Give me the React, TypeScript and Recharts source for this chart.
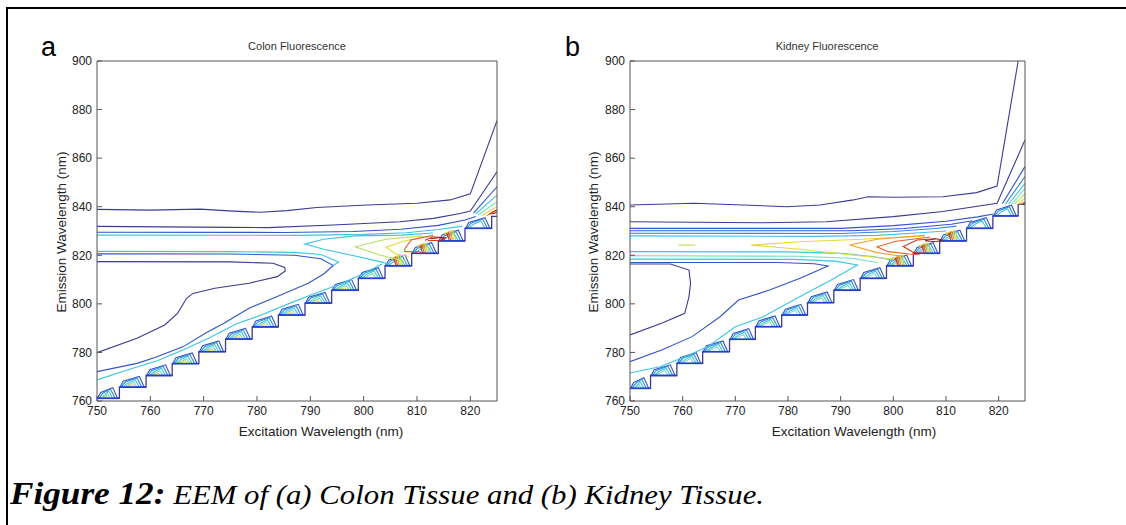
import { LineChart, Line, XAxis, YAxis } from 'recharts'

type Pt = [number, number]
type Trace = { pts: Pt[]; color: string; width?: number }

const xTicks = [750, 760, 770, 780, 790, 800, 810, 820]
const yTicks = [760, 780, 800, 820, 840, 860, 880, 900]

// contour level colours (jet)
const C = {
  navy: '#3b3b94',
  blue: '#3354c8',
  azure: '#2e8ade',
  cyan: '#3cc4e2',
  aqua: '#78dcc0',
  lime: '#b4e064',
  yellow: '#e6d83a',
  orange: '#f0a02c',
  vermil: '#e4602a',
  red: '#c8321e',
  maroon: '#8c2418',
  floor: '#1f3fd0',
}

// ---- colon: edge of the measured region (end of each excitation step, emission floor)
const colonStepEnds = [754.2, 759.2, 764.1, 769.1, 774.1, 779.1, 784, 789, 794, 799, 804, 809, 814, 819, 824]
const colonStepFloors = [761.1, 765.7, 770.5, 775.4, 780.3, 785.5, 790.5, 795.4, 800.3, 805.6, 810.5, 815.7, 820.8, 825.9, 831.1]
const colonStepTop = 836
const colonHotSteps = [11, 12, 13]

// ---- colon contours
const colonNavyTop: Pt[] = [[750, 838.9], [760, 838.6], [769.3, 839], [775.6, 838.2], [780.6, 837.7], [785.6, 838.4], [791.2, 839.7], [800.6, 840.7], [810, 841.4], [816.2, 842.8], [820, 845.3], [825, 875.4]]
const colonNavy2: Pt[] = [[750, 831.9], [775, 831.5], [782, 831.4], [794.3, 832.5], [806.8, 833.8], [813.1, 835.2], [818.1, 837.2], [820, 838.2], [825, 854.4]]
const colonBlue829: Pt[] = [[750, 829.5], [785, 829.4], [798, 829.8], [807, 830.7], [814, 832.3], [819, 834.5], [821, 836]]
const colonCyan828: Pt[] = [[750, 828.3], [788, 828.2], [800, 828.6], [808, 829.3], [814, 830.6], [818.5, 832]]
const colonNavyLoop: Pt[] = [[750, 779.9], [757.5, 785.8], [762.7, 791.3], [765.1, 796.1], [766.8, 802.3], [768, 804.3], [772.1, 806.4], [778.5, 808.5], [783.8, 811.2], [785.3, 813.5], [785.2, 815], [783, 816.7], [775, 817.3], [750, 817.4]]
const colonBlueLoop: Pt[] = [[750, 772.1], [757.5, 775.5], [761, 778], [766.2, 782.4], [770.3, 787.9], [773.8, 792], [778.5, 798.2], [783.8, 803], [789.6, 808.5], [792.5, 812.3], [794.3, 815.8], [792, 818.6], [787, 820], [775, 820.5], [750, 820.6]]
const colonCyanTip: Pt[] = [[750, 821.6], [775, 821.5], [787, 821.2], [792, 820.3], [795.3, 817.2], [794.3, 815.8]]
const colonCyanDiag: Pt[] = [[750, 768.7], [755.7, 772.8], [761.3, 776.6], [766.2, 781.1], [770.9, 785.8], [776.1, 791.7], [780.8, 795.4], [786.1, 800.2], [790.8, 804.3], [796, 808.5], [800.5, 813], [803.5, 816.5]]
const colonCyanLoop: Pt[] = [[813, 829.2], [807.1, 828.3], [798.4, 828], [792.5, 826.6], [789, 824.6], [792.5, 822.5], [798.4, 819.7], [803, 817.4], [805, 816.2]]
const colonLimeLoop: Pt[] = [[811, 828], [804.2, 826.6], [798.4, 823.5], [803, 820.1], [806, 818.5], [808, 817.5]]
const colonYellowLoop: Pt[] = [[811.5, 827.8], [807.1, 825.6], [804.2, 823.3], [806, 820.5], [808.5, 819.5]]
const colonOrangeLoop: Pt[] = [[813, 828.2], [808.9, 826.3], [807.7, 822.5], [807.7, 821.5], [810, 821.5], [811, 821.2]]
const colonRedLoop: Pt[] = [[811.5, 826.2], [813, 827.6], [815.5, 827.2], [814.5, 826.2], [812, 826]]
const colonMaroonLoop: Pt[] = [[812.5, 826.8], [814.5, 827.3], [815.2, 826.6]]
const colonFanBlue: Pt[] = [[820.6, 837.4], [825, 848.2]]
const colonFanCyan: Pt[] = [[821, 837], [825, 844.8]]
const colonFanAqua: Pt[] = [[821.5, 836.6], [825, 842.1]]
const colonFanYellow: Pt[] = [[822.2, 836.4], [825, 840]]
const colonFanOrange: Pt[] = [[823, 836.3], [825, 838.3]]
const colonFanRed: Pt[] = [[823.5, 836.8], [824.3, 838], [825, 838.6]]
const colonFanMaroon: Pt[] = [[824, 837], [825, 837.6]]

// ---- kidney: edge of the measured region
const kidneyStepEnds = [753.9, 758.9, 763.8, 768.9, 773.8, 778.8, 783.7, 788.7, 793.7, 798.7, 803.8, 808.8, 813.9, 818.9, 823.7]
const kidneyStepFloors = [765.2, 770.5, 775.5, 780.3, 785.4, 790.6, 795.4, 800.5, 805.6, 810.5, 815.7, 820.8, 825.9, 831.1, 836.2]
const kidneyStepTop = 841
const kidneyHotSteps = [10, 11, 12]

// ---- kidney contours
const kidneyNavyTop: Pt[] = [[750, 840.7], [762.1, 841.4], [771.5, 840.7], [779.8, 840], [786.1, 840.7], [792.4, 842.8], [795.2, 844.1], [800, 843.9], [809.4, 844.1], [815.8, 845.8], [819.7, 848.5], [823.7, 900]]
const kidneyNavy2: Pt[] = [[750, 833.8], [774.7, 833.4], [787.3, 833.8], [800, 835.9], [809.4, 838], [819.7, 841.4], [825, 867.5]]
const kidneyBlue831: Pt[] = [[750, 831.1], [790, 831.1], [800, 832.2], [810, 834], [816, 835.8], [819, 837]]
const kidneyBlue830: Pt[] = [[750, 830.1], [792, 830.1], [802, 831], [811, 832.8], [815, 834.2]]
const kidneyCyan829: Pt[] = [[750, 829.1], [790, 829], [800, 829.8], [808, 831], [812, 832]]
const kidneyCyan828: Pt[] = [[750, 828], [785, 827.8], [797, 828.2], [805, 829.3], [810, 830]]
const kidneyLimeDash: Pt[] = [[759.2, 824.2], [762.4, 824.2]]
const kidneyYellowLoop: Pt[] = [[806, 828], [794, 826.6], [782.3, 825.6], [773, 824.2], [782.3, 822.5], [794, 819.7], [800, 818.5]]
const kidneyOrangeLoop: Pt[] = [[806, 828.2], [796.9, 826.6], [791.7, 824.2], [796.9, 821.1], [802, 819.5]]
const kidneyRedLoop: Pt[] = [[807, 827.5], [800.5, 825.8], [796.9, 823.5], [799, 821.5], [803, 820.5], [805, 820.2]]
const kidneyMaroonLoop: Pt[] = [[808, 826.8], [804.5, 826.3], [801.9, 823.6], [804, 821], [806, 820.8]]
const kidneyBlob: Pt[] = [[806, 826], [808, 826.8], [809.5, 826.3], [808, 825.6], [806, 826]]
const kidneyCyanUpper: Pt[] = [[750, 821.5], [780, 821.4], [790, 820.8], [796, 819.5], [800, 818]]
const kidneyAquaUpper: Pt[] = [[750, 819.8], [782, 819.6], [792, 818.8], [797, 817]]
const kidneyCyanLoop: Pt[] = [[750, 818.4], [781, 818.3], [789, 817.6], [793.2, 816], [788.2, 809.8], [782.3, 803], [775.3, 794.7], [770, 790.6], [764.8, 782.4], [760.8, 778.5], [755.7, 774.1], [750, 771.5]]
const kidneyBlueLoop: Pt[] = [[750, 817], [778, 817], [785, 816.5], [787.6, 815.6], [782.3, 810.5], [776.5, 805.7], [770.6, 801.6], [767.1, 794.7], [761.8, 786.5], [756, 781], [750, 776.2]]
const kidneyNavyBox: Pt[] = [[750, 816.4], [757.7, 816.4], [761.2, 813.9], [761.5, 808.5], [761.2, 803], [760.4, 796.1], [756, 792], [750, 787.2]]
const kidneyFan: Pt[][] = [
  [[820.7, 841.2], [825, 856.5]],
  [[821.3, 841.1], [825, 852.4]],
  [[821.9, 841], [825, 849.6]],
  [[822.5, 841], [825, 847.6]],
  [[823, 841], [825, 845.5]],
  [[823.6, 841], [825, 843.5]],
  [[824.1, 841], [825, 842.1]],
  [[824.5, 841], [825, 841.6]],
]
const kidneyFanColors = [C.blue, C.azure, C.cyan, C.aqua, C.lime, C.yellow, C.orange, C.red]

// ridges sitting on each step: colour, offsets from the step's left wall / right end, height
type Ridge = { color: string; lead: number; rise: number; height: number; inset: number; lean: number; upTo: number }
const colonRidges: Ridge[] = [
  { color: C.blue, lead: 0.1, rise: 0.6, height: 4.4, inset: 0.35, lean: 0.9, upTo: 14 },
  { color: C.azure, lead: 0.3, rise: 0.8, height: 3.8, inset: 0.8, lean: 0.9, upTo: 14 },
  { color: C.cyan, lead: 0.6, rise: 1.0, height: 3.0, inset: 1.25, lean: 0.8, upTo: 14 },
  { color: C.aqua, lead: 0.9, rise: 0.9, height: 2.0, inset: 1.7, lean: 0.6, upTo: 10 },
  { color: C.yellow, lead: 1.2, rise: 0.6, height: 1.0, inset: 2.1, lean: 0.4, upTo: 9 },
]
const kidneyRidges: Ridge[] = [
  { color: C.blue, lead: 0.1, rise: 0.6, height: 4.4, inset: 0.35, lean: 0.9, upTo: 14 },
  { color: C.azure, lead: 0.3, rise: 0.8, height: 3.8, inset: 0.8, lean: 0.9, upTo: 14 },
  { color: C.cyan, lead: 0.6, rise: 1.0, height: 3.0, inset: 1.25, lean: 0.8, upTo: 14 },
  { color: C.aqua, lead: 0.9, rise: 0.9, height: 2.0, inset: 1.7, lean: 0.6, upTo: 12 },
]
const hotColors = [C.lime, C.yellow, C.orange, C.vermil, C.red]
const hotInsets = [1.7, 2.0, 2.3, 2.6, 2.9]

function stepTraces(ends: number[], floors: number[], top: number, ridges: Ridge[], hot: number[]): Trace[] {
  const out: Trace[] = []
  ends.forEach((end, k) => {
    const a = k === 0 ? 750 : ends[k - 1]
    const f = floors[k]
    ridges.forEach((r) => {
      if (k > r.upTo) return
      // sloped top: lower at the left wall, highest just before the slant
      out.push({
        color: r.color,
        pts: [[a + r.lead, f], [a + r.lead + r.rise, f + r.height * 0.55], [end - r.inset - r.lean, f + r.height], [end - r.inset, f]],
      })
    })
    if (hot.includes(k)) {
      hotColors.forEach((color, i) => {
        const h = 4.3 - 0.3 * i
        out.push({
          color,
          pts: [[a + 1 + 0.2 * i, f + h * 0.7], [end - hotInsets[i] - 0.5, f + h], [end - hotInsets[i], f]],
        })
      })
    }
  })
  const edge: Pt[] = []
  ends.forEach((end, k) => {
    const a = k === 0 ? 750 : ends[k - 1]
    const next = k < ends.length - 1 ? floors[k + 1] : top
    edge.push([a, floors[k]], [end, floors[k]], [end, next])
  })
  edge.push([825, top])
  out.push({ color: C.navy, pts: edge, width: 1.3 })
  ends.forEach((end, k) => {
    const a = k === 0 ? 750 : ends[k - 1]
    out.push({ color: C.floor, pts: [[a, floors[k]], [end, floors[k]]], width: 1.6 })
  })
  return out
}

const colonTraces: Trace[] = [
  ...stepTraces(colonStepEnds, colonStepFloors, colonStepTop, colonRidges, colonHotSteps),
  { pts: colonCyanDiag, color: C.cyan },
  { pts: colonBlueLoop, color: C.blue },
  { pts: colonCyanTip, color: C.cyan },
  { pts: colonNavyLoop, color: C.navy },
  { pts: colonCyan828, color: C.cyan },
  { pts: colonBlue829, color: C.blue },
  { pts: colonNavy2, color: C.navy },
  { pts: colonNavyTop, color: C.navy },
  { pts: colonCyanLoop, color: C.cyan },
  { pts: colonLimeLoop, color: C.lime },
  { pts: colonYellowLoop, color: C.yellow },
  { pts: colonOrangeLoop, color: C.vermil },
  { pts: colonRedLoop, color: C.red },
  { pts: colonMaroonLoop, color: C.maroon },
  { pts: colonFanBlue, color: C.blue },
  { pts: colonFanCyan, color: C.cyan },
  { pts: colonFanAqua, color: C.aqua },
  { pts: colonFanYellow, color: C.yellow },
  { pts: colonFanOrange, color: C.orange },
  { pts: colonFanRed, color: C.red },
  { pts: colonFanMaroon, color: C.maroon },
]

const kidneyTraces: Trace[] = [
  ...stepTraces(kidneyStepEnds, kidneyStepFloors, kidneyStepTop, kidneyRidges, kidneyHotSteps),
  { pts: kidneyCyanLoop, color: C.cyan },
  { pts: kidneyBlueLoop, color: C.blue },
  { pts: kidneyNavyBox, color: C.navy },
  { pts: kidneyAquaUpper, color: C.aqua },
  { pts: kidneyCyanUpper, color: C.cyan },
  { pts: kidneyCyan828, color: C.cyan },
  { pts: kidneyCyan829, color: C.azure },
  { pts: kidneyBlue830, color: C.blue },
  { pts: kidneyBlue831, color: C.blue },
  { pts: kidneyNavy2, color: C.navy },
  { pts: kidneyNavyTop, color: C.navy },
  { pts: kidneyLimeDash, color: C.lime },
  { pts: kidneyYellowLoop, color: C.yellow },
  { pts: kidneyOrangeLoop, color: C.orange },
  { pts: kidneyRedLoop, color: C.vermil },
  { pts: kidneyMaroonLoop, color: C.red },
  { pts: kidneyBlob, color: C.maroon },
  ...kidneyFan.map((pts, i) => ({ pts, color: kidneyFanColors[i] })),
]

const tickFont = { fontSize: 12, fill: '#222', fontFamily: '"Liberation Sans Narrow", "Liberation Sans", Arial, sans-serif' }
const boxColor = '#555'

function Panel({ traces, left, plotLeft, plotRight }: { traces: Trace[]; left: number; plotLeft: number; plotRight: number }) {
  const W = 560
  const H = 440
  return (
    <div style={{ position: 'absolute', left, top: 0 }}>
      <LineChart width={W} height={H} margin={{ top: 60, right: W - (plotRight - left) - 1, bottom: 15, left: plotLeft - left - 40 }}>
        <XAxis dataKey="x" type="number" domain={[750, 825]} ticks={xTicks} allowDataOverflow
          height={24} tickSize={-5} tickMargin={10} tick={tickFont}
          axisLine={{ stroke: boxColor }} tickLine={{ stroke: boxColor }} />
        <XAxis xAxisId="top" orientation="top" dataKey="x" type="number" domain={[750, 825]} ticks={xTicks} allowDataOverflow
          height={1} tickSize={-5} tick={false}
          axisLine={{ stroke: boxColor }} tickLine={{ stroke: boxColor }} />
        <YAxis type="number" domain={[760, 900]} ticks={yTicks} allowDataOverflow
          width={40} tickSize={-5} tickMargin={10} tick={tickFont}
          axisLine={{ stroke: boxColor }} tickLine={{ stroke: boxColor }} />
        <YAxis yAxisId="right" orientation="right" type="number" domain={[760, 900]} ticks={yTicks} allowDataOverflow
          width={1} tickSize={-5} tick={false}
          axisLine={{ stroke: boxColor }} tickLine={{ stroke: boxColor }} />
        {traces.map((t, i) => (
          <Line key={i} data={t.pts.map(([x, y]) => ({ x, y }))} dataKey="y" type="linear"
            stroke={t.color} strokeWidth={t.width ?? 1.1} dot={false} activeDot={false}
            isAnimationActive={false} />
        ))}
      </LineChart>
    </div>
  )
}

const sans = '"Liberation Sans", Arial, sans-serif'
const serif = '"Liberation Serif", "Times New Roman", serif'

export default function App() {
  return (
    <div style={{ position: 'absolute', left: 0, top: 0, width: 1126, height: 525, overflow: 'hidden', background: '#fff' }}>
      <Panel traces={colonTraces} left={0} plotLeft={97} plotRight={497} />
      <Panel traces={kidneyTraces} left={530} plotLeft={630} plotRight={1025} />
      <svg width={1126} height={525} style={{ position: 'absolute', left: 0, top: 0, pointerEvents: 'none' }}>
        <line x1={6} y1={8} x2={1126} y2={8} stroke="#000" strokeWidth={2} />
        <line x1={7} y1={7} x2={7} y2={525} stroke="#000" strokeWidth={2} />
        <text x={41} y={56} fontSize={27} fontFamily={sans} fill="#000">a</text>
        <text x={565} y={56} fontSize={27} fontFamily={sans} fill="#000">b</text>
        <text x={297} y={50} fontSize={11} fontFamily={sans} fill="#333" textAnchor="middle">Colon Fluorescence</text>
        <text x={827} y={50} fontSize={11} fontFamily={sans} fill="#333" textAnchor="middle">Kidney Fluorescence</text>
        <text transform="translate(66 232) rotate(-90)" fontSize={13.5} fontFamily={sans} fill="#222" textAnchor="middle">Emission Wavelength (nm)</text>
        <text transform="translate(598 232) rotate(-90)" fontSize={13.5} fontFamily={sans} fill="#222" textAnchor="middle">Emission Wavelength (nm)</text>
        <text x={321} y={436} fontSize={13.5} fontFamily={sans} fill="#222" textAnchor="middle">Excitation Wavelength (nm)</text>
        <text x={854} y={436} fontSize={13.5} fontFamily={sans} fill="#222" textAnchor="middle">Excitation Wavelength (nm)</text>
        <text transform="translate(10 504) scale(1.1 1)" fontSize={28} fontFamily={serif} fontStyle="italic" fill="#000">
          <tspan fontWeight="bold" fontSize={32}>Figure 12:</tspan> EEM of (a) Colon Tissue and (b) Kidney Tissue.
        </text>
      </svg>
    </div>
  )
}
